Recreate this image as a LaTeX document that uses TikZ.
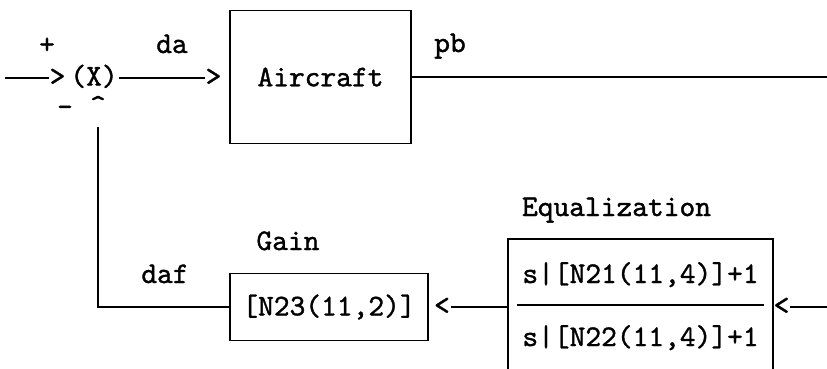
\documentclass[tikz,border=0pt]{standalone}
\usepackage{fontspec}
\newfontfamily\diagfont{lmmono10-regular}[Extension=.otf, FakeBold=1.2]

\begin{document}
\begin{tikzpicture}[x=1pt, y=-1pt, line width=1.8pt,
    every node/.style={font=\fontsize{30}{34}\selectfont\diagfont\bfseries, inner sep=0pt},
    block/.style={draw},
    glyph/.style={text height=15pt, text depth=0pt},
    lbl/.style={anchor=base}]

  \useasboundingbox (0,0) rectangle (827,368);

  %%%%%%%%%%%%%%%%%%%%%%%%%%%%%%%%%%%%%%%%%%%%%%%%%
  % Forward path
  \coordinate (in) at (5,78);
  \node[glyph] (sumarr) at (57.5,78) {>};
  \node[glyph] (sum) at (94,78) {(X)};
  \node[glyph] (airarr) at (213.5,78) {>};
  \node[block, minimum width=181, minimum height=133] (aircraft) at (320.5,77) {Aircraft};
  \coordinate (out) at (827,77);

  \draw (in) -- (sumarr);
  \draw (sum) -- (airarr);
  \draw (aircraft.east) -- (out);

  % Signs and labels
  \node[lbl] (plus) at (47,53.5) {+};
  \node[lbl] (minus) at (65,116) {-};
  \node[anchor=north] (hat) at (98,95) {\char`\^};
  \node[lbl] (da) at (172,53) {da};
  \node[lbl] (pb) at (450,52) {pb};

  %%%%%%%%%%%%%%%%%%%%%%%%%%%%%%%%%%%%%%%%%%%%%%%%%
  % Feedback path
  \coordinate (fbin) at (827,307);
  \node[glyph] (eqarr) at (781.5,307) {<};
  \node[minimum width=263, minimum height=130] (equal) at (640.5,305) {};
  \node[lbl] (num) at (640.5,283) {s|[N21(11,4)]+1};
  \node[lbl] (den) at (640.5,346) {s|[N22(11,4)]+1};
  \node[glyph] (gainarr) at (442,307) {<};
  \node[block, minimum width=198, minimum height=67] (gain) at (329,307) {[N23(11,2)]};
  \coordinate (fbtop) at (98,127);

  \draw (equal.south west) |- (equal.north east) -- (equal.south east);
  \draw ([xshift=9pt]equal.west) -- ([xshift=-9pt]equal.east);
  \draw (fbin) -- (eqarr);
  \draw (gainarr) -- (gainarr -| equal.west);
  \draw (gain.west) -| (fbtop);

  % Labels
  \node[lbl] (eqlbl) at (616.5,216) {Equalization};
  \node[lbl] (gainlbl) at (288,250) {Gain};
  \node[lbl] (daf) at (165,283) {daf};

\end{tikzpicture}
\end{document}
